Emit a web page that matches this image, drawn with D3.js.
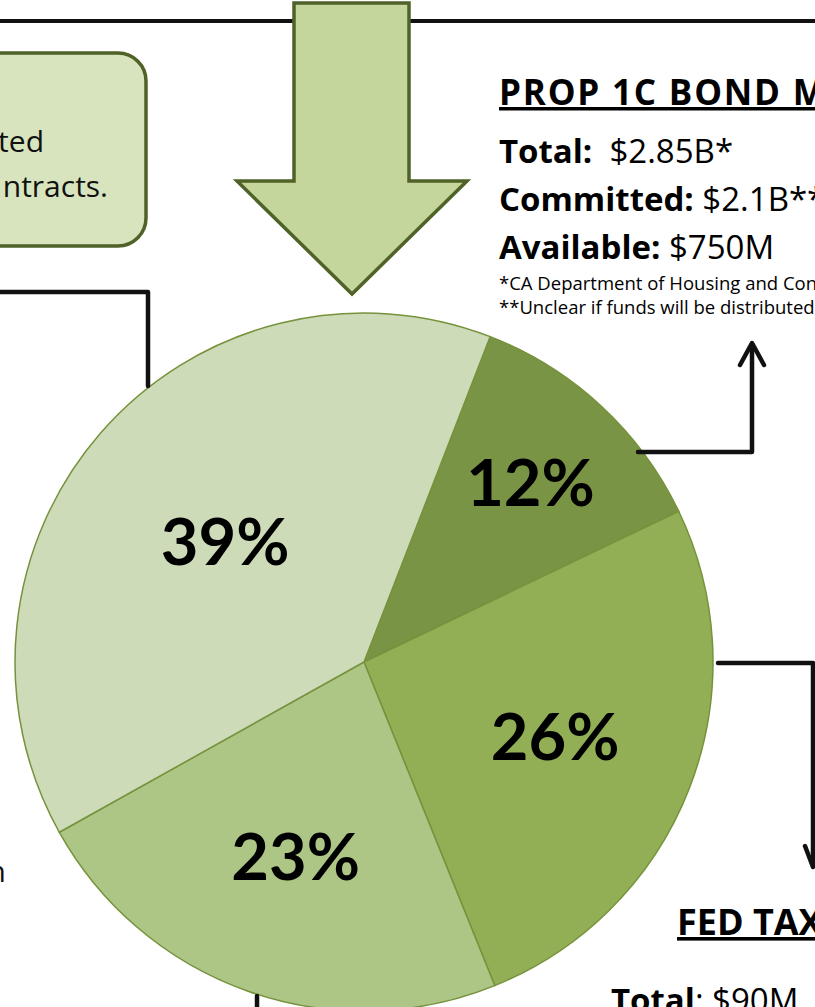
<!DOCTYPE html>
<html>
<head>
<meta charset="utf-8">
<script src="https://cdn.jsdelivr.net/npm/d3@7"></script>
<style>
  html, body { margin: 0; padding: 0; background: #fff; }
  svg { display: block; }
  text { font-family: "Open Sans", Lato, sans-serif; }
  text.pct { font-family: Lato, "Open Sans", sans-serif; }
</style>
</head>
<body>
<div id="chart"></div>
<script>
// slice shares (percent), clockwise starting a bit right of 12 o'clock
const shares = [12, 26, 23, 39];
const shareLabels = ["12%", "26%", "23%", "39%"];
const sliceColors = ["#7a9445", "#92af56", "#adc686", "#cddbb8"];

// PROP 1C text block
const propTitle = "PROP 1C BOND M";
const propKeys = ["Total:", "Committed:", "Available:"];
const propVals = ["\u00a0 $2.85B*", " $2.1B**", " $750M"];
const propNotes = ["*CA Department of Housing and Con", "**Unclear if funds will be distributed"];

// FED TAX block
const fedTitle = "FED TAX";
const fedKeys = ["Total"];
const fedVals = [": $90M"];

// cut-off text on the left
const boxLines = ["ted", "ntracts."];
const leftFragment = "n";

const size = { width: 815, height: 1007 };

const svg = d3
  .select("#chart")
  .append("svg")
  .attr("width", size.width)
  .attr("height", size.height);

svg.append("rect").attr("width", size.width).attr("height", size.height).attr("fill", "#fff");

const ink = "#111";
const dark = "#4f6228";

// top rule line
svg.append("line")
  .attr("x1", 0).attr("x2", size.width)
  .attr("y1", 21).attr("y2", 21)
  .attr("stroke", ink).attr("stroke-width", 4);

// rounded box on the left
svg.append("rect")
  .attr("x", -40).attr("y", 53)
  .attr("width", 186).attr("height", 193)
  .attr("rx", 28)
  .attr("fill", "#d7e4bd")
  .attr("stroke", dark)
  .attr("stroke-width", 3.5);

svg.selectAll(".boxline")
  .data(boxLines)
  .join("text")
  .attr("class", "boxline")
  .attr("x", (d, i) => (i === 0 ? 44 : 108))
  .attr("y", (d, i) => 152 + i * 45)
  .attr("text-anchor", "end")
  .attr("font-size", 30)
  .attr("fill", "#111")
  .text((d) => d);

// big down arrow
const arrow = [
  [294, 3], [409, 3], [409, 181], [467, 181],
  [352, 294], [237, 181], [294, 181],
];
svg.append("path")
  .attr("d", d3.line()(arrow) + "Z")
  .attr("fill", "#c4d69b")
  .attr("stroke", dark)
  .attr("stroke-width", 3.5)
  .attr("stroke-linejoin", "miter");

// pie
const cx = 364, cy = 662, radius = 349;
const start = (21.2 * Math.PI) / 180;

const pie = d3.pie().sort(null).value((d) => d)
  .startAngle(start).endAngle(start + 2 * Math.PI);
const arcs = pie(shares);
const arc = d3.arc().innerRadius(0).outerRadius(radius);

const g = svg.append("g").attr("transform", `translate(${cx},${cy})`);

g.selectAll("path.slice")
  .data(arcs)
  .join("path")
  .attr("class", "slice")
  .attr("d", arc)
  .attr("fill", (d, i) => sliceColors[i])
  .attr("stroke", "#76923c")
  .attr("stroke-width", 1.5);

// label distance from center differs a bit per slice in the original
const labelRadius = [245, 205, 206, 184];
g.selectAll("text.pct")
  .data(arcs)
  .join("text")
  .attr("class", "pct")
  .attr("transform", (d, i) => {
    const c = d3.arc().innerRadius(labelRadius[i]).outerRadius(labelRadius[i]).centroid(d);
    return `translate(${c[0]},${c[1]})`;
  })
  .attr("text-anchor", "middle")
  .attr("dy", "0.36em")
  .attr("font-size", 65)
  .attr("font-weight", 700)
  .attr("fill", "#000")
  .text((d, i) => shareLabels[i]);

// connectors
const connector = d3.line();
const lines = [
  [[0, 292], [148, 292], [148, 386]],
  [[638, 452], [752, 452], [752, 344]],
  [[740, 365], [752, 343], [764, 365]],
  [[718, 663], [813, 663], [813, 866]],
  [[805, 846], [813, 867], [821, 846]],
  [[257, 996], [257, 1010]],
];
svg.selectAll("path.conn")
  .data(lines)
  .join("path")
  .attr("class", "conn")
  .attr("d", (d) => connector(d))
  .attr("fill", "none")
  .attr("stroke", ink)
  .attr("stroke-width", 4.5)
  .attr("stroke-linecap", "round")
  .attr("stroke-linejoin", "round");

// PROP 1C text
svg.append("text")
  .attr("x", 499).attr("y", 105)
  .attr("font-size", 35)
  .attr("letter-spacing", 1.8)
  .attr("font-weight", 700)
  .attr("text-decoration", "underline")
  .attr("fill", "#000")
  .text(propTitle);

const propRows = svg.selectAll(".proprow")
  .data(propKeys)
  .join("text")
  .attr("class", "proprow")
  .attr("x", 499)
  .attr("y", (d, i) => 163 + i * 48)
  .attr("font-size", 33)
  .attr("fill", "#000");
propRows.append("tspan").attr("font-weight", 700).text((d) => d);
propRows.append("tspan").attr("font-weight", 400).text((d, i) => propVals[i]);

svg.selectAll(".propnote")
  .data(propNotes)
  .join("text")
  .attr("class", "propnote")
  .attr("x", 499)
  .attr("y", (d, i) => 290 + i * 24)
  .attr("font-size", 18.5)
  .attr("fill", "#000")
  .text((d) => d);

// FED TAX text
svg.append("text")
  .attr("x", 677).attr("y", 935)
  .attr("font-size", 36)
  .attr("font-weight", 700)
  .attr("text-decoration", "underline")
  .attr("fill", "#000")
  .text(fedTitle);

const fedRows = svg.selectAll(".fedrow")
  .data(fedKeys)
  .join("text")
  .attr("class", "fedrow")
  .attr("x", 611)
  .attr("y", 1012)
  .attr("font-size", 33)
  .attr("fill", "#000");
fedRows.append("tspan").attr("font-weight", 700).text((d) => d);
fedRows.append("tspan").attr("font-weight", 400).text((d, i) => fedVals[i]);

// fragment of text at far left
svg.append("text")
  .attr("x", 6).attr("y", 882)
  .attr("text-anchor", "end")
  .attr("font-size", 30)
  .attr("fill", "#111")
  .text(leftFragment);
</script>
</body>
</html>
